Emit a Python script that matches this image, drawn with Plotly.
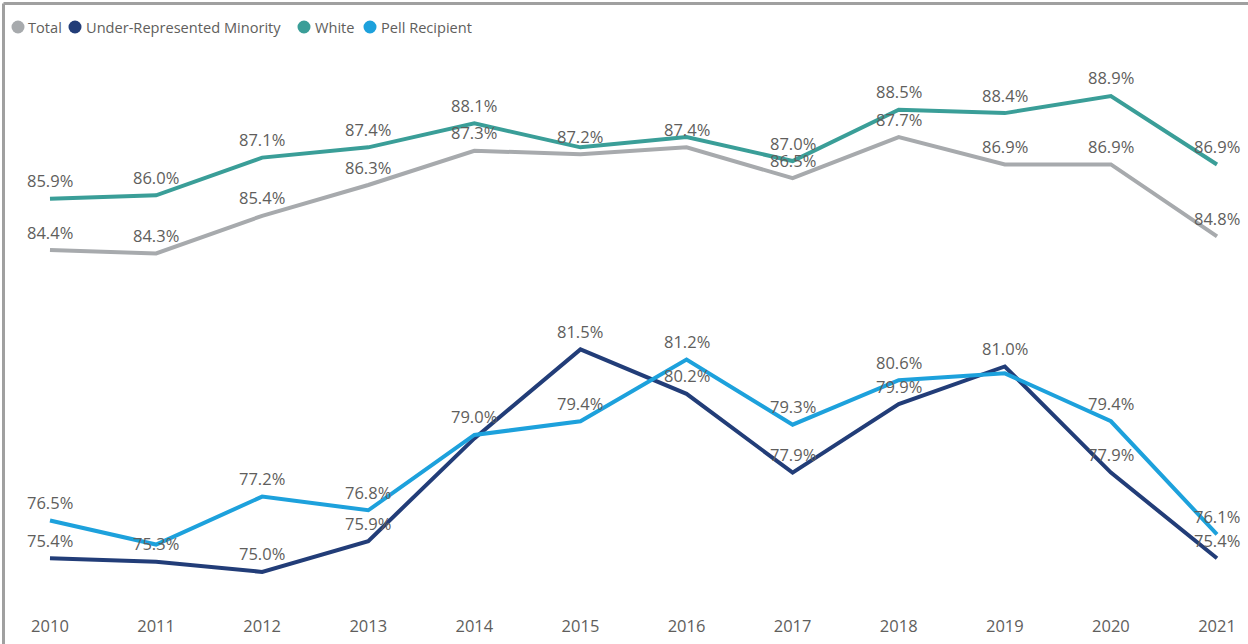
import plotly.graph_objects as go

# Graduation-rate style series by cohort year
years = [2010, 2011, 2012, 2013, 2014, 2015, 2016, 2017, 2018, 2019, 2020, 2021]

total = [84.4, 84.3, 85.4, 86.3, 87.3, 87.2, 87.4, 86.5, 87.7, 86.9, 86.9, 84.8]
urm = [75.4, 75.3, 75.0, 75.9, 78.9, 81.5, 80.2, 77.9, 79.9, 81.0, 77.9, 75.4]
white = [85.9, 86.0, 87.1, 87.4, 88.1, 87.4, 87.7, 87.0, 88.5, 88.4, 88.9, 86.9]
pell = [76.5, 75.8, 77.2, 76.8, 79.0, 79.4, 81.2, 79.3, 80.6, 80.8, 79.4, 76.1]

# Which data labels are displayed (overlapping ones are suppressed)
total_show = [1, 1, 1, 1, 1, 1, 1, 1, 1, 1, 1, 1]
urm_show = [1, 1, 1, 1, 0, 1, 1, 1, 1, 1, 1, 1]
white_show = [1, 1, 1, 1, 1, 0, 0, 1, 1, 1, 1, 1]
pell_show = [1, 0, 1, 1, 1, 1, 1, 1, 1, 0, 1, 1]

series_names = ["Total", "Under-Represented Minority", "White", "Pell Recipient"]
series_values = [total, urm, white, pell]
series_show = [total_show, urm_show, white_show, pell_show]
series_colors = ["#A7AAAD", "#223D78", "#3A9E98", "#1DA1DC"]

FONT = "Open Sans"
TEXT_COLOR = "#605E5C"

fig = go.Figure()

for name, vals, color in zip(series_names, series_values, series_colors):
    fig.add_trace(go.Scatter(
        x=years, y=vals, mode="lines", name=name,
        line=dict(color=color, width=4),
        showlegend=False, hoverinfo="skip",
    ))

annotations = []
for vals, show in zip(series_values, series_show):
    for yr, v, s in zip(years, vals, show):
        if s:
            annotations.append(dict(
                x=yr, y=v, xref="x", yref="y", text=f"{v:.1f}%",
                showarrow=False, yshift=18,
                font=dict(family=FONT, size=16.5, color=TEXT_COLOR),
            ))

# Plot-area geometry (pixels) used to place legend and frame in paper units
W, H = 1248, 644
ML, MR, MT, MB = 4, 4, 40, 44
PW, PH = W - ML - MR, H - MT - MB


def px_x(px):
    return (px - ML) / PW


def px_y(py):
    return (H - MB - py) / PH


# Legend: coloured dot followed by series name
legend_dot_x = [18, 75, 304, 370]
legend_text_x = [26, 84, 313, 379]
legend_y = 27
shapes = []
for name, color, dx, tx in zip(series_names, series_colors, legend_dot_x, legend_text_x):
    shapes.append(dict(
        type="circle", xref="paper", yref="paper",
        xsizemode="pixel", ysizemode="pixel",
        xanchor=px_x(dx), yanchor=px_y(legend_y),
        x0=-6.5, x1=6.5, y0=-6.5, y1=6.5,
        fillcolor=color, line=dict(width=0),
    ))
    annotations.append(dict(
        x=px_x(tx), y=px_y(legend_y), xref="paper", yref="paper",
        text=name, showarrow=False, xanchor="left", yanchor="middle",
        font=dict(family=FONT, size=14.6, color=TEXT_COLOR),
    ))

# Frame along the top and left edges
shapes.append(dict(
    type="line", xref="paper", yref="paper",
    x0=px_x(3.5), x1=px_x(W + 2), y0=px_y(3.5), y1=px_y(3.5),
    line=dict(color="#A0A0A0", width=3),
))
shapes.append(dict(
    type="line", xref="paper", yref="paper",
    x0=px_x(3.5), x1=px_x(3.5), y0=px_y(3.5), y1=px_y(H + 2),
    line=dict(color="#A0A0A0", width=3),
))

fig.update_layout(
    width=W, height=H,
    margin=dict(l=ML, r=MR, t=MT, b=MB),
    paper_bgcolor="white", plot_bgcolor="white",
    showlegend=False,
    annotations=annotations,
    shapes=shapes,
    xaxis=dict(
        range=[2009.5665, 2021.2545],
        tickvals=years, ticktext=[str(y) for y in years],
        showgrid=False, zeroline=False, showline=False,
        ticks="", ticklabelstandoff=14,
        tickfont=dict(family=FONT, size=16.5, color=TEXT_COLOR),
        fixedrange=True,
    ),
    yaxis=dict(
        range=[74.18, 90.535],
        showgrid=False, zeroline=False, showline=False,
        showticklabels=False, ticks="",
        fixedrange=True,
    ),
)

fig.write_html("out.html")
